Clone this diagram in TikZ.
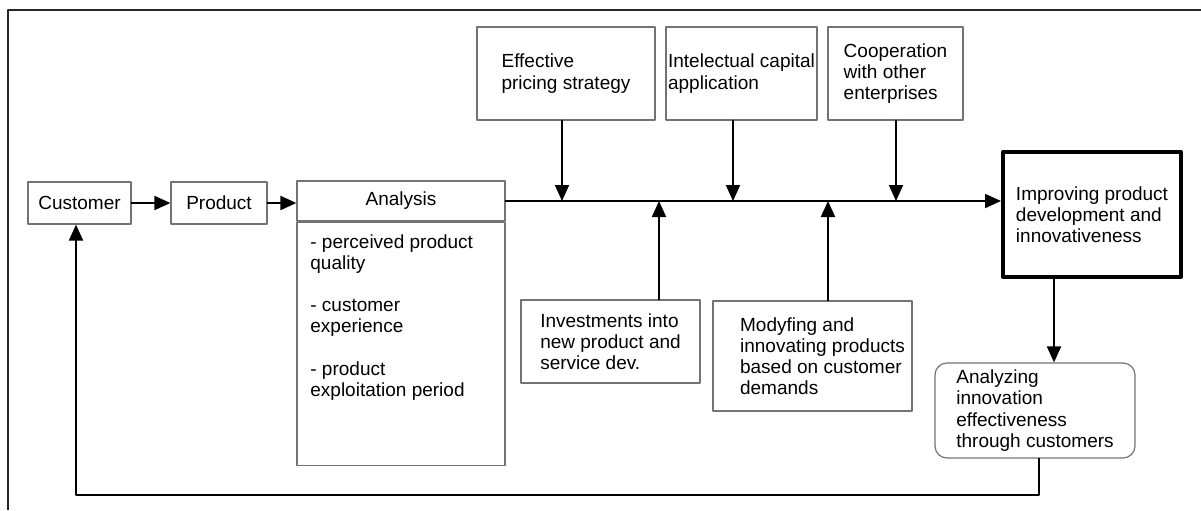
\documentclass[tikz,border=0pt]{standalone}
\usepackage{fontspec}
\setmainfont{Liberation Sans}
\usetikzlibrary{arrows.meta}

\begin{document}
\begin{tikzpicture}[x=0.5pt,y=-0.5pt,line cap=round,line join=round,
  box/.style={draw=black!55, line width=0.6pt, inner sep=0pt, align=left,
    font=\fontsize{9.5}{10.6}\selectfont},
  arr/.style={-{Triangle[length=8pt,width=7pt]}, black, line width=1pt}]
  \useasboundingbox (0,0) rectangle (1201,510);

  % outer frame
  \draw[black!85, line width=1pt, line cap=butt] (8,510) -- (8,10) -- (1201,10);

  % left chain
  \node[box, minimum width=51.5pt, minimum height=21pt] (cust) at (79.5,203) {Customer};
  \node[box, minimum width=48pt, minimum height=21pt] (prod) at (219,203) {Product};
  \node[box, minimum width=104pt, minimum height=20pt] (head) at (401,201) {Analysis};
  \node[box, minimum width=104pt, minimum height=121.5pt, anchor=north] (body) at (head.south) {};
  \node[align=left, inner sep=0pt, anchor=north west, font=\fontsize{9.5}{10.6}\selectfont] (items) at (310,234)
    {- perceived product\\quality\\[10.6pt]- customer\\experience\\[10.6pt]- product\\exploitation period};

  % top factors
  \node[box, minimum width=89pt, minimum height=46.5pt] (price) at (566,73.5) {Effective\\pricing strategy};
  \node[box, minimum width=75.5pt, minimum height=46.5pt] (cap) at (741.5,73.5) {Intelectual capital\\application};
  \node[box, minimum width=67.5pt, minimum height=46.5pt] (coop) at (895.5,73.5) {Cooperation\\with other\\enterprises};

  % bottom factors
  \node[box, minimum width=89.5pt, minimum height=41.5pt] (invest) at (610.5,341.5) {Investments into\\new product and\\service dev.};
  \node[box, minimum width=99.5pt, minimum height=55pt] (modify) at (812.5,356) {\hspace*{10pt}Modyfing and\\\hspace*{10pt}innovating products\\\hspace*{10pt}based on customer\\\hspace*{10pt}demands};

  % result
  \node[box, draw=black, line width=2pt, minimum width=89pt, minimum height=62.5pt] (improve) at (1092,214.5)
    {Improving product\\development and\\innovativeness};
  \node[box, rounded corners=6pt, minimum width=100pt, minimum height=47.5pt] (analyze) at (1035,410.5)
    {Analyzing\\innovation\\effectiveness\\through customers};

  % junctions on the main line
  \coordinate (j1) at (562,201);
  \coordinate (j2) at (659,201);
  \coordinate (j3) at (733,201);
  \coordinate (j4) at (828,201);
  \coordinate (j5) at (896,201);
  \coordinate (d1) at (1054,300);
  \coordinate (f1) at (1039,495);
  \coordinate (f2) at (76,495);

  % connectors
  \draw[arr] (cust) -- (prod);
  \draw[arr] (prod) -- (prod -| head.west);
  \draw[arr] (head.east) -- (head.east -| improve.west);
  \draw[arr] (price.south -| j1) -- (j1);
  \draw[arr] (cap.south -| j3) -- (j3);
  \draw[arr] (coop.south -| j5) -- (j5);
  \draw[arr] (invest.north -| j2) -- (j2);
  \draw[arr] (modify.north -| j4) -- (j4);
  \draw[arr] (improve.south -| d1) -- (analyze.north -| d1);
  \draw[arr] (analyze.south -| f1) -- (f1) -- (f2) -- (cust.south -| f2);
\end{tikzpicture}
\end{document}
